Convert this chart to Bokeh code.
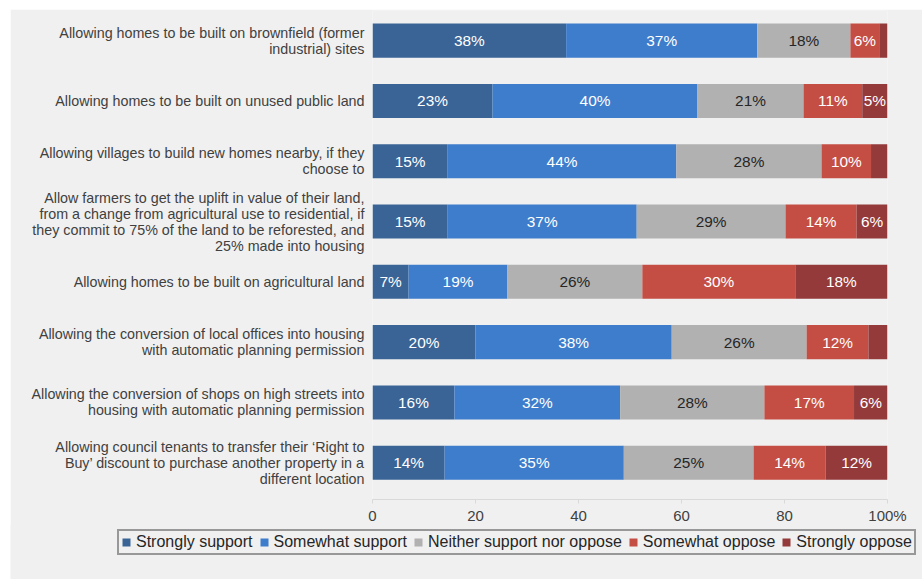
import numpy as np
from bokeh.plotting import figure
from bokeh.models import ColumnDataSource, Range1d, FixedTicker, Legend, LegendItem
from bokeh.core.properties import value
from bokeh.embed import file_html
from bokeh.resources import INLINE

FONT = "Liberation Sans"

statements = [
    "Allowing homes to be built on brownfield (former\nindustrial) sites",
    "Allowing homes to be built on unused public land",
    "Allowing villages to build new homes nearby, if they\nchoose to",
    "Allow farmers to get the uplift in value of their land,\nfrom a change from agricultural use to residential, if\nthey commit to 75% of the land to be reforested, and\n25% made into housing",
    "Allowing homes to be built on agricultural land",
    "Allowing the conversion of local offices into housing\nwith automatic planning permission",
    "Allowing the conversion of shops on high streets into\nhousing with automatic planning permission",
    "Allowing council tenants to transfer their \u2018Right to\nBuy\u2019 discount to purchase another property in a\ndifferent location",
]

responses = ["Strongly support", "Somewhat support", "Neither support nor oppose",
             "Somewhat oppose", "Strongly oppose"]

strongly_support = [37.6, 23.3, 14.6, 14.6, 7.0, 20.0, 15.9, 14.0]
somewhat_support = [37.1, 39.8, 44.4, 36.7, 19.2, 38.1, 32.2, 34.8]
neither = [18.1, 20.6, 28.2, 28.9, 26.2, 26.2, 28.0, 25.2]
somewhat_oppose = [5.6, 11.4, 9.6, 13.8, 29.7, 12.0, 17.4, 14.0]
strongly_oppose = [1.6, 4.9, 3.2, 6.0, 17.9, 3.7, 6.5, 12.0]

colors = ["#3a6496", "#3e7dcc", "#b1b1b1", "#c44e43", "#943a3a"]
label_colors = ["#ffffff", "#ffffff", "#262626", "#ffffff", "#ffffff"]

x_ticks = [0, 20, 40, 60, 80, 100]
x_tick_labels = ["0", "20", "40", "60", "80", "100%"]

series = [strongly_support, somewhat_support, neither, somewhat_oppose, strongly_oppose]
vals = np.array(series, dtype=float)  # shape (5, 8)
rights = np.cumsum(vals, axis=0)
lefts = rights - vals
ypos = np.arange(1, len(statements) + 1)

BG = "#f0f0f0"
p = figure(width=912, height=517, output_backend="svg", toolbar_location=None,
           x_range=Range1d(0, 100), y_range=Range1d(8.61, 0.5),
           min_border_left=362, min_border_right=35, min_border_top=1,
           min_border_bottom=27, background_fill_color=BG, border_fill_color=BG,
           outline_line_color=None)
p.margin = (9, 0, 0, 10)

for i, name in enumerate(responses):
    src = ColumnDataSource(dict(y=ypos, left=lefts[i], right=rights[i]))
    p.hbar(y="y", left="left", right="right", height=0.565, source=src,
           fill_color=colors[i], line_color=None)
    mask = vals[i] >= 4.5
    lsrc = ColumnDataSource(dict(
        x=((lefts[i] + rights[i]) / 2)[mask],
        y=ypos[mask],
        t=[f"{int(round(v))}%" for v in vals[i][mask]],
    ))
    p.text(x="x", y="y", text="t", source=lsrc, text_align="center",
           text_baseline="middle", text_color=label_colors[i],
           text_font=value(FONT), text_font_size="15.4px")

p.xgrid.visible = False
p.ygrid.visible = False

xa = p.xaxis[0]
xa.ticker = FixedTicker(ticks=x_ticks)
xa.major_label_overrides = {t: l for t, l in zip(x_ticks, x_tick_labels)}
xa.axis_line_color = "#d9d9d9"
xa.major_tick_line_color = "#d9d9d9"
xa.major_tick_in = 0
xa.major_tick_out = 4
xa.minor_tick_line_color = None
xa.major_label_standoff = 3
xa.major_label_text_font = FONT
xa.major_label_text_font_size = "15px"
xa.major_label_text_color = "#404040"

ya = p.yaxis[0]
ya.ticker = FixedTicker(ticks=list(ypos))
ya.major_label_overrides = {int(y): s for y, s in zip(ypos, statements)}
ya.axis_line_color = None
ya.major_tick_line_color = None
ya.minor_tick_line_color = None
ya.major_tick_in = 0
ya.major_tick_out = 0
ya.major_label_standoff = 8
ya.major_label_text_font = FONT
ya.major_label_text_font_size = "14.3px"
ya.major_label_text_color = "#404040"
ya.major_label_text_line_height = 1.0

# legend strip below the chart (separate root, so no frame alignment)
lg = figure(width=912, height=54, output_backend="svg", toolbar_location=None,
            x_range=Range1d(0, 1), y_range=Range1d(0, 1),
            min_border_left=0, min_border_right=0, min_border_top=0,
            min_border_bottom=0, background_fill_color=BG, border_fill_color=BG,
            outline_line_color=None)
lg.margin = (-1, 0, 0, 10)
lg.axis.visible = False
lg.xgrid.visible = False
lg.ygrid.visible = False
items = []
for i, name in enumerate(responses):
    # swatch renderers reuse the series colours; their single bar lies outside the strip's view
    r = lg.hbar(y=[-10], left=[0], right=[1], height=0.5,
                fill_color=colors[i], line_color=None)
    items.append(LegendItem(label=name, renderers=[r]))

legend = Legend(items=items, orientation="horizontal", location=(107, 24),
                label_text_font=FONT, label_text_font_size="16px",
                label_text_color="#262626", glyph_width=10, glyph_height=10,
                label_standoff=5, spacing=6, padding=2, margin=0,
                label_height=16, border_line_color="#404040",
                border_line_width=2, background_fill_color=BG,
                background_fill_alpha=1.0)
lg.add_layout(legend, "center")

open("out.html", "w").write(file_html([p, lg], INLINE))
